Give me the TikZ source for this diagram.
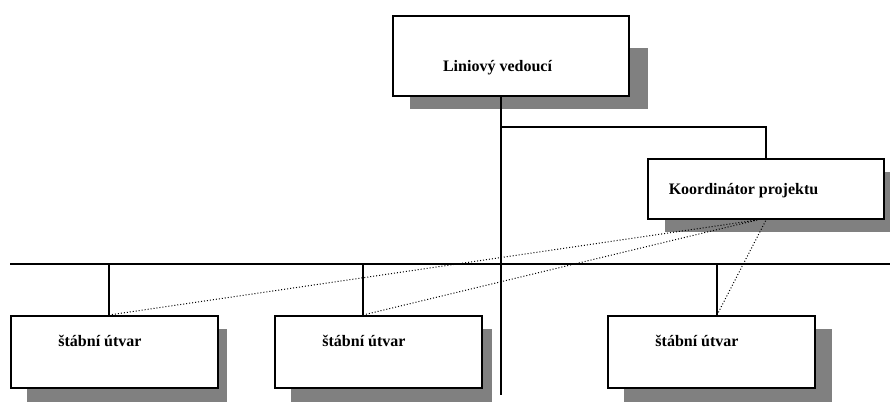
\documentclass[tikz,border=0pt]{standalone}
\usepackage{fontspec}
\setmainfont{Liberation Serif}
\usetikzlibrary{calc}
\tikzset{
	box/.style={draw,line width=2pt,fill=white,rectangle,minimum width=207pt,inner sep=0pt},
	shade/.style={fill=black!50},
	lbl/.style={font=\fontsize{16}{18}\selectfont\bfseries,inner sep=0pt},
	link/.style={line width=2pt},
	staff/.style={dotted,line width=1pt}}

\begin{document}
\begin{tikzpicture}[x=1pt,y=-1pt]
\useasboundingbox (0,0) rectangle (890,401);
% shadows
\fill[shade] (410,48) rectangle (648,109);
\fill[shade] (665,172) rectangle (895,232);
\foreach \x/\r in {11/227,275/492,608/832} {
		\fill[shade] (\x+16,329) rectangle (\r,410);}
% main line and bus
\coordinate (top) at (501,96);
\coordinate (bot) at (501,395);
\draw[link] (top) -- (bot);
\coordinate (busl) at (10,264);
\coordinate (busr) at (890,264);
\draw[link] (busl) -- (busr);
% boxes
\node[box,minimum width=236pt,minimum height=80pt] (lv) at (511,56) {};
\node[lbl] (lvt) at (497.5,68) {Liniový vedoucí};
\node[box,minimum width=236pt,minimum height=60pt] (kp) at (766,189) {};
\node[lbl] (kpt) at (743.5,191) {Koordinátor projektu};
\coordinate (br) at (501,127);
\draw[link] (br) -| (kp.north);
\coordinate (kd) at ([xshift=-9pt]kp.south);
\foreach \n/\x/\d in {1/11/109,2/275/363,3/608/717} {
		\node[box,minimum height=72pt] (s\n) at (\x+103.5,352) {};
		\node[lbl] (t\n) at (\x+89,341) {štábní útvar};
		\coordinate (d\n) at (\d,264);
		\draw[link] (d\n) -- (d\n |- s\n.north);}
\draw[staff] (d1 |- s1.north) -- (kd);
\draw[staff] (d2 |- s2.north) -- (kd);
\draw[staff] (d3 |- s3.north) -- (kp.south);
\end{tikzpicture}
\end{document}
